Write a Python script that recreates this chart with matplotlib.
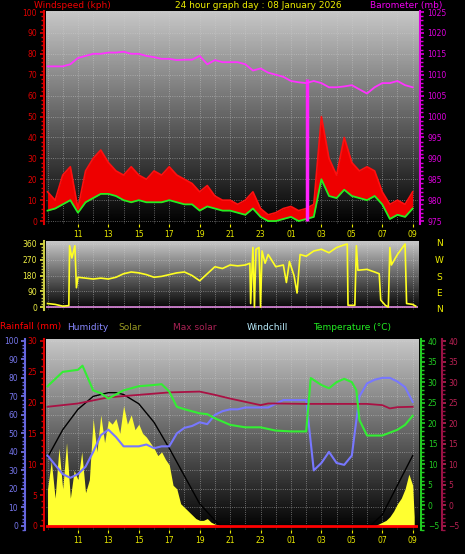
import numpy as np
import matplotlib
matplotlib.use('Agg')
import matplotlib.pyplot as plt
from matplotlib.ticker import MultipleLocator, FixedLocator

# hours since midnight of day 1 (24+ = next day)
hours = [9.0, 9.5, 10.0, 10.5, 11.0, 11.5, 12.0, 12.5, 13.0, 13.5, 14.0, 14.5, 15.0, 15.5, 16.0, 16.5,
         17.0, 17.5, 18.0, 18.5, 19.0, 19.5, 20.0, 20.5, 21.0, 21.5, 22.0, 22.5, 23.0, 23.5, 24.0, 24.5,
         25.0, 25.5, 26.0, 26.5, 27.0, 27.5, 28.0, 28.5, 29.0, 29.5, 30.0, 30.5, 31.0, 31.5, 32.0, 32.5, 33.0]
wind_avg = [5, 6, 8, 10, 4, 9, 11, 13, 13, 12, 10, 9, 10, 9, 9, 9, 10, 9, 8, 8, 5, 7, 6, 5, 5, 4, 3, 6,
            2, 0, 0, 1, 2, 0, 1, 2, 20, 12, 11, 15, 12, 11, 10, 12, 8, 1, 3, 2, 6]
wind_gust = [14, 10, 22, 26, 6, 24, 30, 34, 28, 24, 22, 26, 22, 20, 24, 22, 26, 22, 20, 18, 14, 17, 12, 10,
             10, 8, 10, 14, 6, 3, 4, 6, 7, 5, 6, 8, 50, 30, 22, 40, 28, 24, 26, 24, 14, 8, 10, 8, 14]
baro = [1012, 1012, 1012, 1012.5, 1014, 1014.5, 1015, 1015, 1015.3, 1015.3, 1015.5, 1015, 1015, 1014.5,
        1014.2, 1013.8, 1013.8, 1013.5, 1013.6, 1013.6, 1014.5, 1012.5, 1013.5, 1013, 1013, 1013, 1012.5,
        1011, 1011.5, 1010.5, 1010, 1009.5, 1008.5, 1008.2, 1008, 1008.5, 1008, 1007, 1007, 1007.2, 1007.5,
        1006.5, 1005.5, 1007, 1008, 1008, 1008.5, 1007.5, 1007]
baro_glitch_time = 26.05
baro_glitch_top = 1009

dir_time = [9.0, 9.5, 10.0, 10.4, 10.45, 10.6, 10.8, 10.9, 11.0, 11.5, 12, 12.5, 13, 13.5, 14, 14.5, 15,
            15.5, 16, 16.5, 17, 17.5, 18, 18.5, 19, 19.5, 20, 20.5, 21, 21.5, 22, 22.3, 22.35, 22.5, 22.6,
            22.7, 22.9, 23.0, 23.1, 23.3, 23.5, 24, 24.5, 24.7, 24.9, 25.2, 25.4, 25.6, 26, 26.5, 27, 27.5,
            28, 28.5, 28.7, 28.75, 29.2, 29.3, 29.4, 30, 30.5, 30.8, 30.9, 31.2, 31.4, 31.5, 31.6, 32,
            32.5, 32.6, 33.0, 33.2]
dir_deg = [20, 15, 5, 8, 350, 280, 350, 110, 170, 165, 160, 165, 160, 170, 190, 200, 195, 185, 170, 175,
           185, 195, 200, 180, 150, 190, 230, 220, 240, 235, 240, 250, 20, 340, 0, 330, 340, 0, 320, 250,
           300, 230, 240, 140, 260, 180, 80, 300, 290, 320, 330, 310, 340, 355, 360, 10, 10, 350, 210, 215,
           200, 190, 40, 10, 0, 340, 240, 300, 360, 20, 15, 5]

humidity = [38, 33, 28, 26, 28, 32, 40, 49, 52, 48, 43, 43, 43, 44, 42, 43, 43, 50, 53, 54, 56, 55, 60, 62,
            63, 63, 64, 64, 64, 64, 66, 68, 68, 68, 68, 30, 34, 40, 34, 33, 38, 70, 77, 79, 80, 80, 78, 75, 67]
temp_time = [9, 10, 11, 11.3, 12, 12.5, 13, 13.5, 14, 15, 16, 16.5, 17, 17.5, 18, 19, 19.5, 20, 21, 22,
             23, 24, 25, 26, 26.3, 27, 27.5, 28, 28.5, 29, 29.3, 29.5, 30, 31, 31.5, 32, 32.5, 33]
temperature = [29, 32.5, 33, 34, 28, 27.3, 26, 27, 28, 29, 29.3, 29.5, 27.7, 24, 23.4, 22.4, 22.2, 21.2,
               19.6, 19, 19, 18.2, 18, 18, 31, 29.3, 28.5, 30, 30.8, 30, 28, 20.8, 17, 17, 17.7, 18.4, 19.6, 21.8]
maxs_time = [9, 11, 13, 15, 17, 19, 20, 21, 22, 23, 23.5, 24, 26, 28, 30, 31, 31.5, 32, 33]
max_solar_red = [24, 24.8, 26.3, 26.9, 27.5, 27.7, 26.9, 26, 25.2, 24.4, 24.8, 24.8, 24.7, 24.7, 24.7,
                 24.4, 23.6, 23.9, 24]
curve_time = [9, 10, 11, 12, 13, 13.5, 14, 15, 16, 17, 18, 19, 20, 20.4, 30.2, 31, 32, 33]
curve_val = [37, 52, 63, 70, 72, 72, 71, 66, 56, 42, 27, 12, 3, 0, 0, 6, 22, 38]
solar_time = [9.0, 9.25, 9.5, 9.75, 10.0, 10.25, 10.5, 10.75, 11.0, 11.25, 11.5, 11.75, 12.0, 12.25, 12.5,
              12.75, 13.0, 13.25, 13.5, 13.75, 14.0, 14.25, 14.5, 14.75, 15.0, 15.25, 15.5, 15.75, 16.0,
              16.25, 16.5, 16.75, 17.0, 17.25, 17.5, 17.75, 18.0, 18.25, 18.5, 18.75, 19.0, 19.25, 19.5,
              19.75, 20.0, 20.25, 20.5, 30.5, 30.75, 31.0, 31.25, 31.5, 31.75, 32.0, 32.25, 32.5, 32.75,
              33.0, 33.1]
solar = [20, 35, 15, 42, 20, 45, 15, 30, 25, 40, 18, 25, 58, 40, 60, 45, 57, 55, 58, 50, 65, 55, 60, 52,
         55, 50, 48, 45, 42, 38, 40, 36, 33, 22, 20, 12, 10, 8, 6, 4, 3, 3, 4, 2, 1, 0.5, 0, 0, 1, 2, 3, 5,
         8, 12, 15, 20, 28, 22, 5]

tick_hours = [11, 13, 15, 17, 19, 21, 23, 25, 27, 29, 31, 33]
tick_labels = ['11', '13', '15', '17', '19', '21', '23', '01', '03', '05', '07', '09']
dir_labels = ['N', 'W', 'S', 'E', 'N']

W, H = 465, 554
fig = plt.figure(figsize=(W / 100, H / 100), dpi=100, facecolor='black')
grad = np.linspace(0.78, 0.0, 256).reshape(-1, 1)
XL = (8.9, 33.35)


def px_axes(left, top, right, bottom):
    return fig.add_axes([left / W, 1 - bottom / H, (right - left) / W, (bottom - top) / H])


def style(ax, color, side='left', out=0):
    ax.set_facecolor('none')
    for s in ax.spines.values():
        s.set_visible(False)
    sp = ax.spines[side]
    sp.set_visible(True)
    sp.set_color(color)
    sp.set_linewidth(1.5)
    sp.set_position(('outward', out))
    ax.yaxis.set_ticks_position(side)
    ax.tick_params(axis='y', colors=color, labelsize=5.5, length=3, width=1.2, pad=2)
    ax.tick_params(axis='y', which='minor', colors=color, length=2, width=1)
    ax.tick_params(axis='x', bottom=False, labelbottom=False)


def background(ax):
    ax.imshow(grad, cmap='gray', vmin=0, vmax=1, aspect='auto', extent=[0, 1, 0, 1],
              transform=ax.transAxes, zorder=0)
    ax.set_xlim(*XL)
    ax.xaxis.set_major_locator(FixedLocator(tick_hours))
    ax.xaxis.set_minor_locator(MultipleLocator(1))
    ax.grid(True, which='both', axis='x', color='#d0d0d0', linestyle=':', linewidth=0.6, alpha=0.6)
    ax.grid(True, which='major', axis='y', color='#d0d0d0', linestyle=':', linewidth=0.6, alpha=0.6)
    ax.spines[:].set_visible(False)


def xlabels(ax, top=False):
    ax.tick_params(axis='x', bottom=not top, labelbottom=not top, top=top, labeltop=top,
                   colors='#e8e800', labelsize=5.5, length=2, pad=2)
    ax.tick_params(axis='x', which='minor', length=0)
    ax.set_xticklabels(tick_labels)


# ---- top panel: wind and barometer
ax1 = px_axes(46, 11, 418, 224)
background(ax1)
ax1.set_ylim(-1.4, 100.5)
ax1.fill_between(hours, wind_avg, wind_gust, color='#ee0000', lw=0, zorder=2)
ax1.plot(hours, wind_gust, color='#ff1010', lw=1.2, zorder=2)
ax1.plot(hours, wind_avg, color='#22ee22', lw=1.3, zorder=3)
style(ax1, '#dd0000', 'left', 1.5)
ax1.yaxis.set_major_locator(MultipleLocator(10))
ax1.yaxis.set_minor_locator(MultipleLocator(2))
xlabels(ax1)
ax1b = ax1.twinx()
ax1b.set_ylim(974.3, 1025.24)
ax1b.plot(hours, baro, color='#ff33ff', lw=1.3, zorder=3)
ax1b.vlines(baro_glitch_time, 975, baro_glitch_top, color='#ff22ff', lw=2.5)
style(ax1b, '#dd00dd', 'right', 1.5)
ax1b.yaxis.set_major_locator(MultipleLocator(5))
ax1b.yaxis.set_minor_locator(MultipleLocator(1))

fig.text(34 / W, 1 - 1 / H, 'Windspeed (kph)', color='#ee0000', fontsize=6.5, va='top')
fig.text(258 / W, 1 - 1 / H, '24 hour graph day : 08 January 2026', color='#eeee00', fontsize=6.5,
         va='top', ha='center')
fig.text(442 / W, 1 - 1 / H, 'Barometer (mb)', color='#ee00ee', fontsize=6.5, va='top', ha='right')

# ---- middle panel: wind direction
ax2 = px_axes(46, 241, 418, 310)
background(ax2)
ax2.set_ylim(-17, 377)
ax2.yaxis.set_major_locator(MultipleLocator(90))
ax2.yaxis.set_minor_locator(MultipleLocator(18))
ax2.axhline(0, color='#dd88dd', lw=1.2, zorder=2)
ax2.plot(dir_time, dir_deg, color='#ffff22', lw=1.2, zorder=3)
style(ax2, '#cccc44', 'left', 1.5)
ax2.tick_params(axis='y', colors='#eeee44')
for i, lab in enumerate(dir_labels):
    fig.text(439 / W, 1 - (244 + i * 16.5) / H, lab, color='#eeee00', fontsize=6.5, ha='center', va='center')

# legend row
legend = [('Rainfall (mm)', '#ff0000', 0), ('Humidity', '#8888ff', 67), ('Solar', '#999922', 118),
          ('Max solar', '#aa2255', 173), ('Windchill', '#bbeeff', 247), ('Temperature (°C)', '#22ee22', 313)]
for name, col, x in legend:
    fig.text(x / W, 1 - 327 / H, name, color=col, fontsize=6.5, va='center')

# ---- bottom panel
ax3 = px_axes(46, 339, 418, 530)
background(ax3)
ax3.set_ylim(-2.2, 101)
ax3.yaxis.set_major_locator(MultipleLocator(10))
ax3.yaxis.set_minor_locator(MultipleLocator(2))
ax3.fill_between(solar_time[:47], 0, solar[:47], color='#ffff30', lw=0, zorder=2)
ax3.fill_between(solar_time[47:], 0, solar[47:], color='#ffff30', lw=0, zorder=2)
ax3.plot(curve_time, curve_val, color='black', lw=1, zorder=3)
ax3.plot(hours, humidity, color='#7777ff', lw=1.5, zorder=4)
style(ax3, '#6666dd', 'left', 15)
ax3.tick_params(axis='y', colors='#7777ee')
xlabels(ax3)

ax3r = ax3.twinx()
ax3r.set_ylim(-0.65, 30.3)
ax3r.axhline(0, color='#ff0000', lw=2, zorder=5)
style(ax3r, '#dd0000', 'left', 1.5)
ax3r.yaxis.set_major_locator(MultipleLocator(5))
ax3r.yaxis.set_minor_locator(MultipleLocator(1))

ax3t = ax3.twinx()
ax3t.set_ylim(-6, 40.5)
ax3t.plot(maxs_time, max_solar_red, color='#aa1144', lw=1.3, zorder=4)
ax3t.plot(temp_time, temperature, color='#33ee33', lw=1.5, zorder=4)
style(ax3t, '#22cc22', 'right', 2)
ax3t.yaxis.set_major_locator(MultipleLocator(5))
ax3t.yaxis.set_minor_locator(MultipleLocator(1))

ax3c = ax3.twinx()
ax3c.set_ylim(-6, 40.5)
style(ax3c, '#991144', 'right', 17)
ax3c.yaxis.set_major_locator(MultipleLocator(5))
ax3c.yaxis.set_minor_locator(MultipleLocator(1))
ax3c.tick_params(axis='y', colors='#bb2255')

fig.savefig('out.png', dpi=100, facecolor='black')
